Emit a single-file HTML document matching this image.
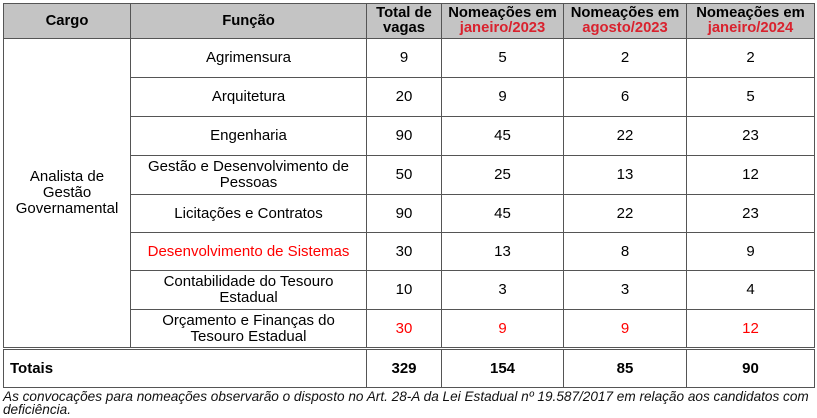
<!DOCTYPE html>
<html><head><meta charset="utf-8"><style>
body{margin:0;background:#fff;font-family:"Liberation Sans",Arial,sans-serif;}
table{position:absolute;left:3px;top:3px;border-collapse:collapse;width:811px;table-layout:fixed;font-size:15px;color:#000}
td,th{border:1px solid #555;text-align:center;padding:0;line-height:16px;overflow:hidden;white-space:nowrap}
th{background:#c4c4c4;font-weight:bold;font-size:14.8px;line-height:15px}
.r{color:#f00}
.h{color:#d9222e}
tr.tot td{border-top:3px double #555;font-weight:bold}
.note{position:absolute;left:3px;top:390px;font-size:13.6px;font-style:italic;line-height:13px;width:814px;color:#111;white-space:nowrap}
</style></head><body>
<table>
<colgroup><col style="width:127px"><col style="width:236px"><col style="width:75px"><col style="width:122px"><col style="width:123px"><col style="width:128px"></colgroup>
<tr style="height:35px"><th>Cargo</th><th>Função</th><th>Total de<br>vagas</th><th>Nomeações em<br><span class="h">janeiro/2023</span></th><th>Nomeações em<br><span class="h">agosto/2023</span></th><th>Nomeações em<br><span class="h">janeiro/2024</span></th></tr>
<tr style="height:39px"><td rowspan="8">Analista de<br>Gestão<br>Governamental</td><td>Agrimensura</td><td>9</td><td>5</td><td>2</td><td>2</td></tr>
<tr style="height:39px"><td>Arquitetura</td><td>20</td><td>9</td><td>6</td><td>5</td></tr>
<tr style="height:39px"><td>Engenharia</td><td>90</td><td>45</td><td>22</td><td>23</td></tr>
<tr style="height:39px"><td>Gestão e Desenvolvimento de<br>Pessoas</td><td>50</td><td>25</td><td>13</td><td>12</td></tr>
<tr style="height:38px"><td>Licitações e Contratos</td><td>90</td><td>45</td><td>22</td><td>23</td></tr>
<tr style="height:38px"><td class="r">Desenvolvimento de Sistemas</td><td>30</td><td>13</td><td>8</td><td>9</td></tr>
<tr style="height:39px"><td>Contabilidade do Tesouro<br>Estadual</td><td>10</td><td>3</td><td>3</td><td>4</td></tr>
<tr style="height:39px"><td>Orçamento e Finanças do<br>Tesouro Estadual</td><td class="r">30</td><td class="r">9</td><td class="r">9</td><td class="r">12</td></tr>
<tr class="tot" style="height:39px"><td colspan="2" style="text-align:left;padding-left:6px">Totais</td><td>329</td><td>154</td><td>85</td><td>90</td></tr>
</table>
<div class="note">As convocações para nomeações observarão o disposto no Art. 28-A da Lei Estadual nº 19.587/2017 em relação aos candidatos com<br>deficiência.</div>
</body></html>
